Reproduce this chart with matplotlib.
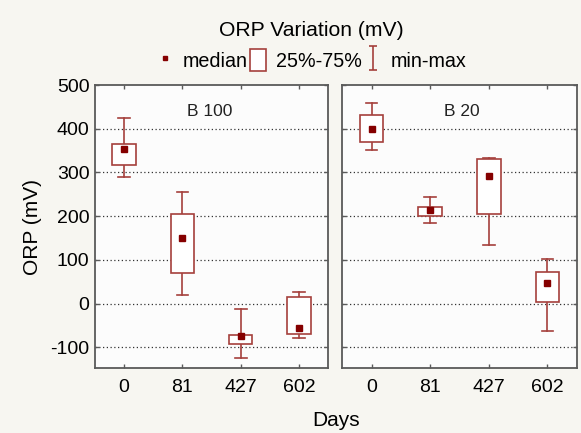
import matplotlib
matplotlib.use("Agg")
import matplotlib.pyplot as plt
from matplotlib.patches import Rectangle, Patch
from matplotlib.lines import Line2D
from matplotlib.path import Path

plt.rcParams['font.family'] = ['Liberation Sans', 'DejaVu Sans']

days = ["0", "81", "427", "602"]
panels = ["B 100", "B 20"]

b100_min = [290, 19, -124, -79]
b100_q1 = [316, 70, -92, -70]
b100_med = [353, 151, -75, -56]
b100_q3 = [364, 206, -72, 16]
b100_max = [424, 256, -12, 27]

b20_min = [352, 184, 135, -62]
b20_q1 = [369, 200, 205, 3]
b20_med = [399, 215, 292, 47]
b20_q3 = [431, 220, 331, 73]
b20_max = [458, 243, 334, 102]

data = [
    (b100_min, b100_q1, b100_med, b100_q3, b100_max),
    (b20_min, b20_q1, b20_med, b20_q3, b20_max),
]

yticks = [-100, 0, 100, 200, 300, 400, 500]

BOX_C = "#a5403c"
MED_C = "#850000"
FIG_BG = "#f7f6f1"
AX_BG = "#fcfcfc"
SPINE_C = "#5a5a5a"

fig = plt.figure(figsize=(5.81, 4.33), dpi=100, facecolor=FIG_BG)
W, H = 581, 433
ax_rects = [
    (95 / W, 1 - 368.3 / H, 233.3 / W, 283.3 / H),
    (342.3 / W, 1 - 368.3 / H, 234.4 / W, 283.3 / H),
]

bw = 0.4
cw = 0.2
for i, (rect, name, (mn, q1, md, q3, mx)) in enumerate(zip(ax_rects, panels, data)):
    ax = fig.add_axes(rect, facecolor=AX_BG)
    x = list(range(len(days)))
    for xi in x:
        ax.plot([xi, xi], [q3[xi], mx[xi]], color=BOX_C, lw=1.2, zorder=2)
        ax.plot([xi, xi], [mn[xi], q1[xi]], color=BOX_C, lw=1.2, zorder=2)
        ax.plot([xi - cw / 2, xi + cw / 2], [mx[xi], mx[xi]], color=BOX_C, lw=1.2, zorder=2)
        ax.plot([xi - cw / 2, xi + cw / 2], [mn[xi], mn[xi]], color=BOX_C, lw=1.2, zorder=2)
        ax.add_patch(Rectangle((xi - bw / 2, q1[xi]), bw, q3[xi] - q1[xi],
                               facecolor="white", edgecolor=BOX_C, lw=1.2, zorder=3))
    ax.plot(x, md, linestyle="none", marker="s", markersize=5, color=MED_C, zorder=4)

    ax.set_xlim(-0.5, len(days) - 0.5)
    ax.set_ylim(-148, 500)
    ax.set_xticks(x)
    ax.set_xticklabels(days)
    ax.set_yticks(yticks)
    for yv in yticks:
        if yv < 500:
            ax.axhline(yv, color="#333333", linestyle=(0, (1, 2)), lw=0.9, zorder=1)
    ax.tick_params(direction="in", length=3, width=1, color=SPINE_C,
                   top=True, right=True, labelsize=14)
    ax.tick_params(axis="x", pad=8)
    ax.tick_params(axis="y", pad=4)
    if i == 0:
        ax.set_yticklabels([str(v) for v in yticks])
        ax.set_ylabel("ORP (mV)", fontsize=15, labelpad=6)
    else:
        ax.set_yticklabels([])
    for s in ax.spines.values():
        s.set_color(SPINE_C)
        s.set_linewidth(1.3)
    ax.text(0.49 if i == 0 else 0.51, 0.905, name, transform=ax.transAxes,
            ha="center", va="center", fontsize=12.5, color="#222222")

fig.text(336 / W, 1 - 421 / H, "Days", ha="center", va="center", fontsize=15)
fig.text(311.5 / W, 1 - 31 / H, "ORP Variation (mV)", ha="center", va="center", fontsize=15.2)

ibeam = Path([(-0.3, 1), (0.3, 1), (0, 1), (0, -1), (-0.3, -1), (0.3, -1)],
             [Path.MOVETO, Path.LINETO, Path.MOVETO, Path.LINETO, Path.MOVETO, Path.LINETO])
handles = [
    Line2D([], [], linestyle="none", marker="s", markersize=3.5, color=MED_C),
    Patch(facecolor="white", edgecolor=BOX_C, lw=1.2),
    Line2D([], [], linestyle="none", marker=ibeam, markersize=17, markeredgewidth=1.2,
           markerfacecolor="none", markeredgecolor=BOX_C),
]
fig.legend(handles, ["median", "25%-75%", "min-max"], loc="center",
           bbox_to_anchor=(311.5 / W, 1 - 60 / H), ncol=3, frameon=False,
           fontsize=14.2, handlelength=0.8, handletextpad=0.5, columnspacing=0.15,
           handleheight=1.4)

fig.savefig("out.png", dpi=100, facecolor=FIG_BG)
